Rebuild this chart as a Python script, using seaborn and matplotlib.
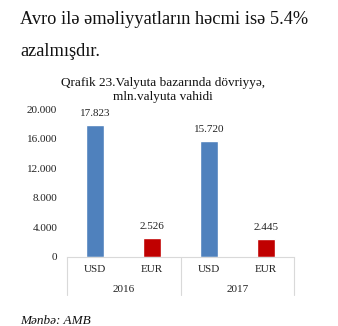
import matplotlib
matplotlib.use("Agg")
import matplotlib.pyplot as plt
import matplotlib.transforms as mtransforms
import seaborn as sns
import pandas as pd

# Data
years = ["2016", "2017"]
currencies = ["USD", "EUR"]
values_2016 = [17823, 2526]
values_2017 = [15720, 2445]
y_ticks = [0, 4000, 8000, 12000, 16000, 20000]

colors = {"USD": "#4F81BD", "EUR": "#C00000"}

rows = []
for year, vals in zip(years, [values_2016, values_2017]):
    for cur, v in zip(currencies, vals):
        rows.append({"key": f"{cur}\n{year}", "currency": cur, "year": year, "value": v})
df = pd.DataFrame(rows)

sns.set_theme(style="white")
plt.rcParams["font.family"] = ["Liberation Serif", "DejaVu Serif"]

W, H = 338, 326
fig = plt.figure(figsize=(W / 100, H / 100), dpi=100)
ax = fig.add_axes([67 / W, 69 / H, 227 / W, 148 / H])

sns.barplot(data=df, x="key", y="value", hue="currency", palette=colors,
            width=0.32, dodge=False, legend=False, ax=ax, saturation=1)

ax.set_ylim(0, 20000)
ax.set_xlim(-0.5, len(df) - 0.5)
ax.set_yticks(y_ticks)
ax.set_yticklabels([f"{t:,}".replace(",", ".") for t in y_ticks],
                   fontsize=8, color="#222222")
ax.tick_params(axis="y", length=0, pad=7)
ax.tick_params(axis="x", length=0, pad=6)
ax.set_xticks(range(len(df)))
ax.set_xticklabels(df["currency"], fontsize=8, color="#222222")
ax.set_xlabel("")
ax.set_ylabel("")

for side in ["left", "top", "right"]:
    ax.spines[side].set_visible(False)
ax.spines["bottom"].set_color("#D9D9D9")
ax.spines["bottom"].set_linewidth(0.8)

for container in ax.containers:
    ax.bar_label(container,
                 labels=[f"{v:,.0f}".replace(",", ".") for v in container.datavalues],
                 padding=5, fontsize=8, color="#222222")

# Year group labels and separators below the axis
trans = mtransforms.blended_transform_factory(ax.transData, ax.transAxes)
n_per = len(currencies)
for i, year in enumerate(years):
    center = i * n_per + (n_per - 1) / 2
    ax.text(center, -32 / 148, year, transform=trans, ha="center", va="center",
            fontsize=8, color="#222222")
for b in range(len(years) + 1):
    xb = b * n_per - 0.5
    ax.plot([xb, xb], [0, -38 / 148], transform=trans, color="#D9D9D9",
            lw=0.8, clip_on=False)

# Surrounding text
fig.text(20 / W, 1 - 19 / H, "Avro ilə əməliyyatların həcmi isə 5.4%",
         fontsize=13.2, va="center", ha="left", color="#111111")
fig.text(20 / W, 1 - 51 / H, "azalmışdır.",
         fontsize=13.2, va="center", ha="left", color="#111111")
fig.text(163 / W, 1 - 83 / H, "Qrafik 23.Valyuta bazarında dövriyyə,",
         fontsize=9.5, va="center", ha="center", color="#111111")
fig.text(163 / W, 1 - 97 / H, "mln.valyuta vahidi",
         fontsize=9.5, va="center", ha="center", color="#111111")
fig.text(20 / W, 1 - 321 / H, "Mənbə: AMB", fontsize=9.5, style="italic",
         va="center", ha="left", color="#111111")

fig.savefig("out.png", dpi=100)
